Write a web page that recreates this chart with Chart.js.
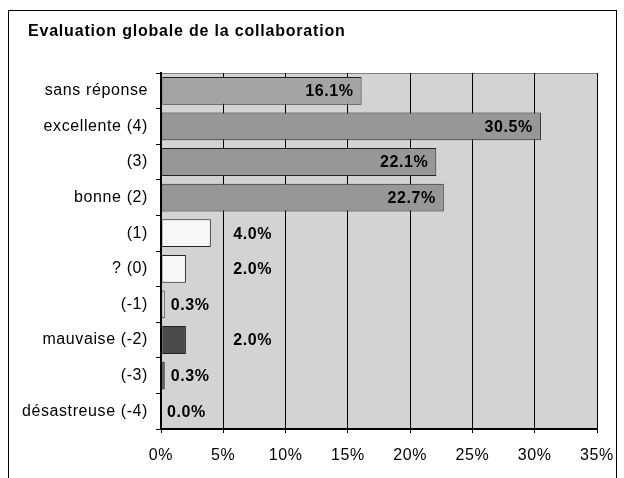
<!DOCTYPE html>
<html>
<head>
<meta charset="utf-8">
<script src="https://cdn.jsdelivr.net/npm/chart.js@4"></script>
<style>
  html, body { margin: 0; padding: 0; background: #fff; }
  #wrap { width: 624px; height: 478px; }
</style>
</head>
<body>
<div id="wrap"><canvas id="chart" width="624" height="478"></canvas></div>
<script>
// données
const categories = ['sans réponse', 'excellente (4)', '(3)', 'bonne (2)', '(1)', '? (0)', '(-1)', 'mauvaise (-2)', '(-3)', 'désastreuse (-4)'];
const percents = [16.1, 30.5, 22.1, 22.7, 4.0, 2.0, 0.3, 2.0, 0.3, 0.0];
const xTicks = [0, 5, 10, 15, 20, 25, 30, 35];

const barColors = ['#a4a4a4', '#979797', '#979797', '#979797', '#f8f8f8', '#f8f8f8', '#f8f8f8', '#4a4a4a', '#4a4a4a', '#4a4a4a'];
const FONT = '"Liberation Sans", Arial, sans-serif';

// fond, cadre, titre
const frame = {
  id: 'frame',
  beforeUpdate(chart) { chart.ctx.letterSpacing = '0.6px'; },
  beforeDraw(chart) {
    const c = chart.ctx, a = chart.chartArea;
    c.letterSpacing = '0.6px';
    c.save();
    c.fillStyle = '#fff';
    c.fillRect(0, 0, chart.width, chart.height);
    c.strokeStyle = '#000';
    c.lineWidth = 1;
    c.strokeRect(8.5, 10.5, 608, 480);
    c.fillStyle = '#d3d3d3';
    c.fillRect(a.left, a.top, a.right - a.left, a.bottom - a.top);
    c.strokeStyle = '#808080';
    c.beginPath();
    c.moveTo(a.left, a.top + 0.5);
    c.lineTo(a.right + 0.5, a.top + 0.5);
    c.lineTo(a.right + 0.5, a.bottom);
    c.stroke();
    c.fillStyle = '#000';
    c.font = 'bold 16px ' + FONT;
    c.letterSpacing = '0.8px';
    c.textBaseline = 'middle';
    c.fillText('Evaluation globale de la collaboration', 28, 32);
    c.restore();
  }
};

// étiquettes des valeurs
const valueLabels = {
  id: 'valueLabels',
  afterDatasetsDraw(chart) {
    const c = chart.ctx;
    const xs = chart.scales.x;
    const meta = chart.getDatasetMeta(0);
    c.save();
    c.fillStyle = '#000';
    c.font = 'bold 16px ' + FONT;
    c.letterSpacing = '0.6px';
    c.textBaseline = 'middle';
    meta.data.forEach((bar, i) => {
      const v = percents[i];
      const txt = v.toFixed(1) + '%';
      if (v >= 10) {
        c.textAlign = 'right';
        c.fillText(txt, bar.x - 8, bar.y + 1);
      } else if (v >= 1) {
        c.textAlign = 'left';
        c.fillText(txt, xs.getPixelForValue(5.8), bar.y + 1);
      } else {
        c.textAlign = 'left';
        c.fillText(txt, bar.x + 6, bar.y + 1);
      }
    });
    c.restore();
  }
};

new Chart(document.getElementById('chart'), {
  type: 'bar',
  data: {
    labels: categories,
    datasets: [{
      data: percents,
      backgroundColor: barColors,
      borderColor: '#222',
      borderWidth: 1,
      borderSkipped: false,
      barPercentage: 0.78,
      categoryPercentage: 1
    }]
  },
  options: {
    indexAxis: 'y',
    responsive: false,
    animation: false,
    layout: { padding: { top: 73, right: 27, left: 0, bottom: 0 } },
    plugins: { legend: { display: false }, tooltip: { enabled: false } },
    scales: {
      x: {
        min: 0,
        max: 35,
        afterBuildTicks(scale) { scale.ticks = xTicks.map(v => ({ value: v })); },
        afterFit(scale) { scale.height = 49; scale.paddingRight = 0; scale.paddingLeft = 0; },
        grid: { color: '#000', lineWidth: 1, tickLength: 4 },
        border: { color: '#000', width: 2 },
        ticks: {
          color: '#000',
          padding: 13,
          maxRotation: 0,
          font: { family: FONT, size: 16 },
          callback: v => v + '%'
        }
      },
      y: {
        afterFit(scale) { scale.width = 161; },
        grid: { drawOnChartArea: false, color: '#000', tickLength: 5, offset: true },
        border: { color: '#000', width: 2 },
        ticks: {
          color: '#000',
          padding: 8,
          font: { family: FONT, size: 16 }
        }
      }
    }
  },
  plugins: [frame, valueLabels]
});
</script>
</body>
</html>
